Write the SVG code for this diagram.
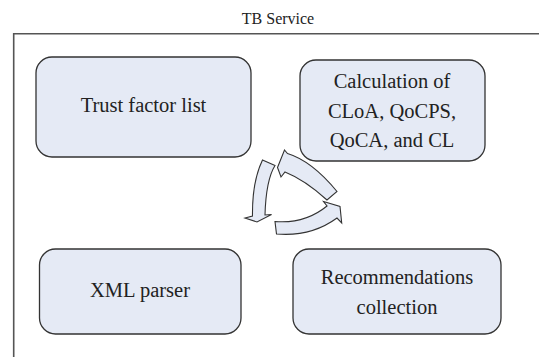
<svg xmlns="http://www.w3.org/2000/svg" width="539" height="357" viewBox="0 0 539 357">
<style>
.node{fill:#e5eaf5;stroke:#333;stroke-width:1.3}
.arrow{fill:#e5eaf5;stroke:#333;stroke-width:1.1;stroke-linejoin:miter}
.lbl{font-family:"Liberation Serif","Times New Roman",serif;font-size:20.5px;fill:#222;text-anchor:middle}
.title{font-family:"Liberation Serif","Times New Roman",serif;font-size:16px;fill:#222;text-anchor:middle}
</style>
<rect width="539" height="357" fill="#fff"/>
<g id="container">
<path d="M13.7,357 V33.7 H539" fill="none" stroke="#555" stroke-width="1.6"/>
<text class="title" x="278" y="24">TB Service</text>
</g>
<g id="trust-factor-list">
<rect class="node" x="36" y="57" width="215" height="100" rx="16"/>
<text class="lbl" x="143.5" y="112">Trust factor list</text>
</g>
<g id="calculation">
<rect class="node" x="300" y="60" width="185" height="101" rx="16"/>
<text class="lbl" x="392" y="88">Calculation of</text>
<text class="lbl" x="392" y="117.5">CLoA, QoCPS,</text>
<text class="lbl" x="392" y="146.5">QoCA, and CL</text>
</g>
<g id="xml-parser">
<rect class="node" x="39.5" y="249" width="201.5" height="85" rx="16"/>
<text class="lbl" x="140" y="297">XML parser</text>
</g>
<g id="recommendations-collection">
<rect class="node" x="293" y="249" width="208" height="85" rx="16"/>
<text class="lbl" x="397" y="284">Recommendations</text>
<text class="lbl" x="397" y="314">collection</text>
</g>
<g id="connectors">
<path class="arrow" d="M262.5,160 L275,165.5 Q266,180 265,215 L271.5,214.5 L257,222 L245,218 L252.5,216 Q252,182 262.5,160 Z"/>
<path class="arrow" d="M337,191.5 Q312,161 287.5,153.5 L284.5,150 L277.5,167.5 L281,177 L285,172 Q305,180 327,200 Z"/>
<path class="arrow" d="M275,221.5 Q305,224 327,206 L323.5,201.5 L340,206.5 L341.7,223 L337,218 Q311,237 276.5,234 Z"/>
</g>
</svg>
